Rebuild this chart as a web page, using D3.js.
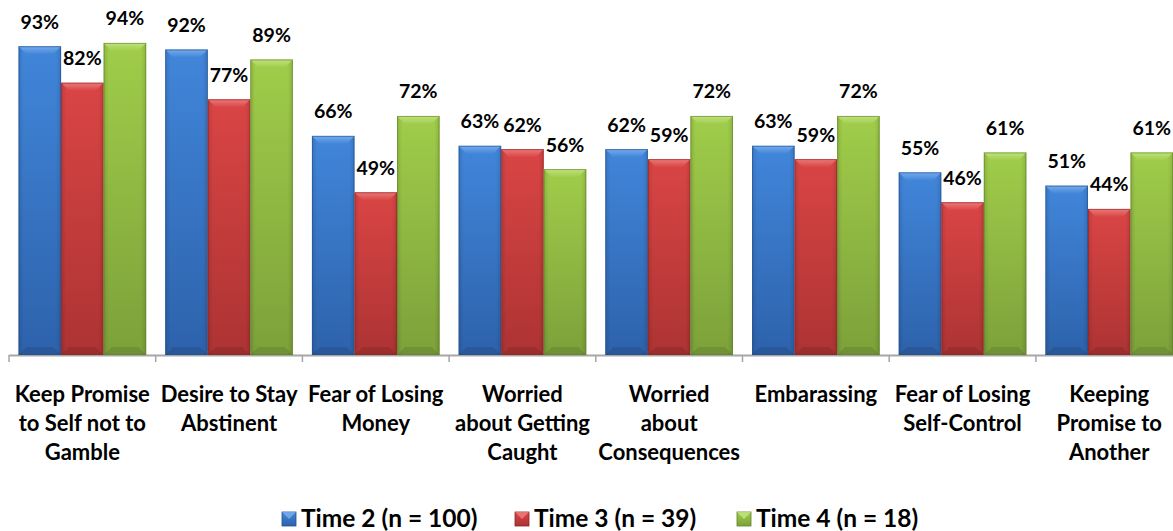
<!DOCTYPE html>
<html>
<head>
<meta charset="utf-8">
<script src="https://cdn.jsdelivr.net/npm/d3@7"></script>
<style>
  html, body { margin: 0; padding: 0; background: #ffffff; }
  svg { display: block; }
  text { font-family: Lato, "Open Sans", sans-serif; font-weight: 700; fill: #000; }
</style>
</head>
<body>
<svg id="chart" width="1173" height="531"></svg>
<script>
// ---- data ----
const categories = [
  "Keep Promise\nto Self not to\nGamble",
  "Desire to Stay\nAbstinent",
  "Fear of Losing\nMoney",
  "Worried\nabout Getting\nCaught",
  "Worried\nabout\nConsequences",
  "Embarassing",
  "Fear of Losing\nSelf-Control",
  "Keeping\nPromise to\nAnother"
];
const seriesNames = ["Time 2 (n = 100)", "Time 3 (n = 39)", "Time 4 (n = 18)"];
const time2 = [93, 92, 66, 63, 62, 63, 55, 51];
const time3 = [82, 77, 49, 62, 59, 59, 46, 44];
const time4 = [94, 89, 72, 56, 72, 72, 61, 61];
const seriesValues = [time2, time3, time4];

// ---- styles ----
const palette = [
  { top: "#4186da", bottom: "#2d62ab", bevelTop: "#7db0ee", edge: "#25508c" },
  { top: "#da4545", bottom: "#ad3333", bevelTop: "#ee8080", edge: "#8c2626" },
  { top: "#a0cd4a", bottom: "#7ca13a", bevelTop: "#c4e584", edge: "#62802c" }
];

const svg = d3.select("#chart");
const W = 1173, H = 531;
const step = 146.7;
const left = 9;
const baseY = 355;

const x0 = d3.scaleBand()
  .domain(d3.range(categories.length))
  .range([left, left + step * categories.length])
  .paddingInner(0.13)
  .paddingOuter(0.065);
const x1 = d3.scaleBand()
  .domain(d3.range(seriesNames.length))
  .range([0, x0.bandwidth()]);
const y = d3.scaleLinear().domain([0, 100]).range([baseY, 23]);

// gradients
const defs = svg.append("defs");
palette.forEach((p, i) => {
  const g = defs.append("linearGradient")
    .attr("id", "grad" + i).attr("x1", 0).attr("y1", 0).attr("x2", 0).attr("y2", 1);
  g.append("stop").attr("offset", "0%").attr("stop-color", p.top);
  g.append("stop").attr("offset", "100%").attr("stop-color", p.bottom);
  const s = defs.append("linearGradient")
    .attr("id", "side" + i).attr("x1", 0).attr("y1", 0).attr("x2", 1).attr("y2", 0);
  s.append("stop").attr("offset", "0%").attr("stop-color", "#000").attr("stop-opacity", 0.12);
  s.append("stop").attr("offset", "12%").attr("stop-color", "#000").attr("stop-opacity", 0.0);
  s.append("stop").attr("offset", "88%").attr("stop-color", "#000").attr("stop-opacity", 0.0);
  s.append("stop").attr("offset", "100%").attr("stop-color", "#000").attr("stop-opacity", 0.12);
  const tb = defs.append("linearGradient")
    .attr("id", "topbev" + i).attr("x1", 0).attr("y1", 0).attr("x2", 0).attr("y2", 1);
  tb.append("stop").attr("offset", "0%").attr("stop-color", p.bevelTop);
  tb.append("stop").attr("offset", "100%").attr("stop-color", p.top);
});

// axis line + ticks
const axisG = svg.append("g");
axisG.append("line")
  .attr("x1", left).attr("x2", W)
  .attr("y1", baseY + 0.5).attr("y2", baseY + 0.5)
  .attr("stroke", "#a6a6a6").attr("stroke-width", 2);
const tickXs = d3.range(categories.length + 1).map(i => x0.step() * i + left);
axisG.selectAll("line.tick").data(tickXs).join("line")
  .attr("class", "tick")
  .attr("x1", d => d).attr("x2", d => d)
  .attr("y1", baseY).attr("y2", baseY + 7)
  .attr("stroke", "#a6a6a6").attr("stroke-width", 1.5);

// bars
const bev = 8;
const groups = svg.append("g").selectAll("g").data(categories).join("g")
  .attr("transform", (d, i) => `translate(${x0(i)},0)`);

groups.each(function(cat, ci) {
  const g = d3.select(this);
  seriesValues.forEach((vals, si) => {
    const v = vals[ci];
    const bx = x1(si), bw = x1.bandwidth();
    const by = y(v), bh = baseY - y(v);
    const p = palette[si];
    const bg = g.append("g");
    bg.append("rect")
      .attr("x", bx).attr("y", by).attr("width", bw).attr("height", bh)
      .attr("fill", `url(#grad${si})`);
    bg.append("rect")
      .attr("x", bx).attr("y", by).attr("width", bw).attr("height", bh)
      .attr("fill", `url(#side${si})`);
    // top bevel
    bg.append("path")
      .attr("d", `M${bx},${by}L${bx + bw},${by}L${bx + bw - bev},${by + bev}L${bx + bev},${by + bev}Z`)
      .attr("fill", `url(#topbev${si})`).attr("opacity", 0.9);
    // bottom bevel
    bg.append("path")
      .attr("d", `M${bx},${baseY}L${bx + bw},${baseY}L${bx + bw - bev},${baseY - bev}L${bx + bev},${baseY - bev}Z`)
      .attr("fill", "#000").attr("opacity", 0.1);
    bg.append("rect")
      .attr("x", bx + 0.5).attr("y", by + 0.5).attr("width", bw - 1).attr("height", bh - 1)
      .attr("fill", "none").attr("stroke", p.edge).attr("stroke-opacity", 0.6).attr("stroke-width", 1);
    // label
    g.append("text")
      .attr("x", bx + bw / 2).attr("y", by - 17.5)
      .attr("text-anchor", "middle")
      .style("font-size", "19.5px")
      .text(v + "%");
  });
  // category label
  const lines = cat.split("\n");
  const t = g.append("text")
    .attr("text-anchor", "middle")
    .style("font-size", "22px");
  lines.forEach((ln, li) => {
    t.append("tspan")
      .attr("x", x0.bandwidth() / 2)
      .attr("y", 401.7 + li * 29)
      .text(ln);
  });
});

// legend
const legendX = [282, 515, 737];
const lg = svg.append("g").selectAll("g").data(seriesNames).join("g")
  .attr("transform", (d, i) => `translate(${legendX[i]},512)`);
lg.append("rect")
  .attr("width", 14).attr("height", 14)
  .attr("fill", (d, i) => `url(#grad${i})`)
  .attr("stroke", (d, i) => palette[i].edge).attr("stroke-width", 0.8);
lg.append("path")
  .attr("d", "M0,0L14,0L7,7Z")
  .attr("fill", (d, i) => palette[i].bevelTop).attr("opacity", 0.8);
lg.append("text")
  .attr("x", 19).attr("y", 14.5)
  .style("font-size", "24.5px")
  .text(d => d);
</script>
</body>
</html>
